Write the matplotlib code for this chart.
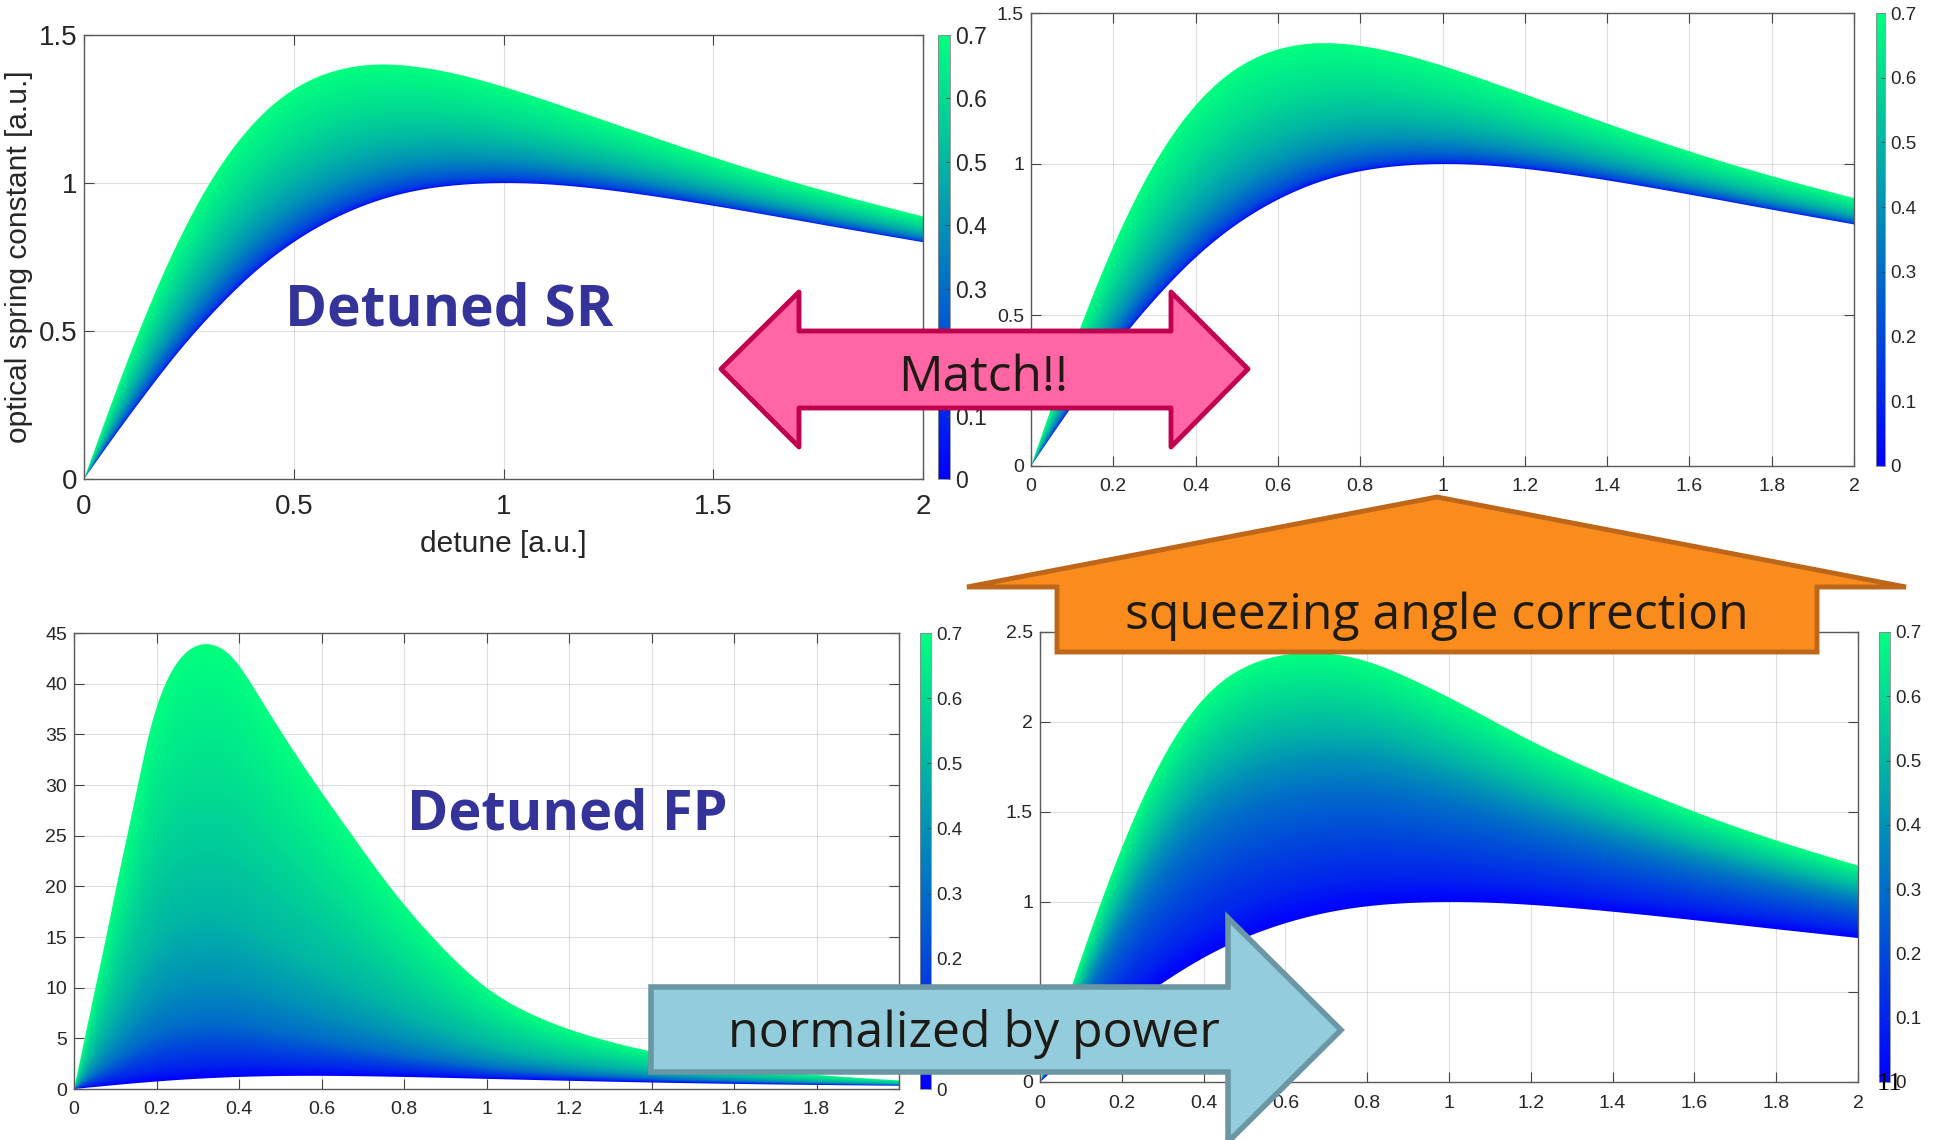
import numpy as np
import matplotlib
matplotlib.use("Agg")
import matplotlib.pyplot as plt
from matplotlib.patches import Polygon
from matplotlib.ticker import FuncFormatter
from matplotlib.cm import ScalarMappable
from matplotlib.colors import Normalize

# ---------------------------------------------------------------- data
# detuned signal recycling: optical spring constant vs detune
sr_x = [0, 0.05, 0.1, 0.15, 0.2, 0.25, 0.3, 0.4, 0.5, 0.6, 0.7, 0.8, 0.9,
        1.0, 1.2, 1.4, 1.6, 1.8, 2.0]
sr_lower = [0, 0.100, 0.198, 0.293, 0.385, 0.471, 0.550, 0.690, 0.800, 0.882,
            0.940, 0.976, 0.994, 1.000, 0.984, 0.946, 0.899, 0.849, 0.800]
sr_upper = [0, 0.195, 0.385, 0.563, 0.727, 0.873, 1.000, 1.194, 1.316, 1.379,
            1.400, 1.391, 1.364, 1.325, 1.231, 1.134, 1.042, 0.960, 0.887]

# detuned FP with squeezing angle correction (normalized)
corr_x = sr_x
corr_lower = [0, 0.100, 0.198, 0.293, 0.385, 0.471, 0.550, 0.690, 0.800, 0.882,
              0.940, 0.976, 0.994, 1.000, 0.984, 0.946, 0.899, 0.849, 0.800]
corr_upper = [0, 0.195, 0.385, 0.563, 0.727, 0.873, 1.000, 1.194, 1.316, 1.379,
              1.400, 1.391, 1.364, 1.325, 1.231, 1.134, 1.042, 0.960, 0.887]

# detuned Fabry-Perot
fp_lower_x = [0, 0.1, 0.2, 0.3, 0.4, 0.5, 0.6, 0.7, 0.8, 1.0, 1.2, 1.4, 1.6, 1.8, 2.0]
fp_lower = [0, 0.392, 0.740, 1.010, 1.190, 1.280, 1.300, 1.260, 1.190, 1.000,
            0.810, 0.640, 0.505, 0.400, 0.320]
fp_upper_x = [0, 0.026, 0.052, 0.078, 0.103, 0.129, 0.155, 0.182, 0.222, 0.270,
              0.323, 0.360, 0.390, 0.420, 0.460, 0.500, 0.588, 0.675, 0.765,
              0.869, 1.0, 1.13, 1.27, 1.4, 1.6, 1.8, 2.0]
fp_upper = [0, 5, 10, 15, 20, 25, 30, 35, 40, 43.0, 43.9, 43.4, 42.3, 40.6,
            38.0, 35.4, 30, 25, 20, 15, 10, 7.0, 5.0, 3.7, 2.3, 1.4, 0.85]

# detuned FP normalized by power
norm_lower_x = sr_x
norm_lower = [0, 0.100, 0.198, 0.293, 0.385, 0.471, 0.550, 0.690, 0.800, 0.882,
              0.940, 0.976, 0.994, 1.000, 0.984, 0.946, 0.899, 0.849, 0.800]
norm_upper_x = [0, 0.04, 0.08, 0.12, 0.16, 0.2, 0.24, 0.28, 0.32, 0.36, 0.4,
                0.45, 0.5, 0.55, 0.6, 0.66, 0.7, 0.8, 0.9, 1.0, 1.2, 1.4, 1.6,
                1.8, 2.0]
norm_upper = [0, 0.276, 0.548, 0.812, 1.064, 1.300, 1.516, 1.708, 1.876, 2.016,
              2.128, 2.233, 2.303, 2.348, 2.373, 2.385, 2.381, 2.336, 2.246,
              2.136, 1.896, 1.686, 1.502, 1.342, 1.202]

# colour parameter (colorbar) and where each level sits inside the band
levels = [0, 0.1, 0.2, 0.3, 0.4, 0.5, 0.6, 0.7]
sr_band_pos = [0, 0.013, 0.056, 0.14, 0.25, 0.42, 0.66, 1.0]
corr_band_pos = [0, 0.013, 0.056, 0.14, 0.25, 0.42, 0.66, 1.0]
fp_band_pos = [0, 0.03, 0.08, 0.13, 0.23, 0.38, 0.66, 1.0]
norm_band_pos = [0, 0.12, 0.30, 0.47, 0.60, 0.71, 0.85, 1.0]

# ticks
x_ticks_coarse = [0, 0.5, 1, 1.5, 2]
x_ticks_fine = [0, 0.2, 0.4, 0.6, 0.8, 1, 1.2, 1.4, 1.6, 1.8, 2]
sr_yticks = [0, 0.5, 1, 1.5]
fp_yticks = [0, 5, 10, 15, 20, 25, 30, 35, 40, 45]
norm_yticks = [0, 0.5, 1, 1.5, 2, 2.5]
cbar_ticks = [0, 0.1, 0.2, 0.3, 0.4, 0.5, 0.6, 0.7]

# ---------------------------------------------------------------- helpers
W, H = 1934, 1140
fig = plt.figure(figsize=(W / 100, H / 100), dpi=100)
fig.patch.set_facecolor("white")
TICK_FONT = ["Liberation Sans", "DejaVu Sans"]
TXT = "#262626"


def rect(l, t, r, b):
    return [l / W, 1 - b / H, (r - l) / W, (b - t) / H]


def spline(xk, yk, x):
    """Natural cubic spline through the sampled points."""
    xk = np.asarray(xk, float)
    yk = np.asarray(yk, float)
    n = len(xk)
    h = np.diff(xk)
    A = np.zeros((n, n))
    b = np.zeros(n)
    A[0, 0] = A[-1, -1] = 1.0
    for i in range(1, n - 1):
        A[i, i - 1] = h[i - 1]
        A[i, i] = 2 * (h[i - 1] + h[i])
        A[i, i + 1] = h[i]
        b[i] = 6 * ((yk[i + 1] - yk[i]) / h[i] - (yk[i] - yk[i - 1]) / h[i - 1])
    M = np.linalg.solve(A, b)
    i = np.clip(np.searchsorted(xk, x) - 1, 0, n - 2)
    hi = h[i]
    a = xk[i + 1] - x
    c = x - xk[i]
    return ((M[i] * a**3 + M[i + 1] * c**3) / (6 * hi)
            + (yk[i] / hi - M[i] * hi / 6) * a
            + (yk[i + 1] / hi - M[i + 1] * hi / 6) * c)


fmt = FuncFormatter(lambda v, _: f"{v:g}")
cmap = plt.get_cmap("winter")
norm = Normalize(0, 0.7)


def panel(box, cbox, xl, lo, xu, hi, band_pos, xticks, yticks, ylim,
          tick_size, cbar_size, xpad, ypad):
    ax = fig.add_axes(rect(*box))
    xg = np.linspace(0, 2, 1400)
    lo_g = np.maximum(spline(xl, lo, xg), 0)
    hi_g = np.maximum(spline(xu, hi, xg), lo_g)
    yg = np.linspace(ylim[0], ylim[1], 1000)
    X, Y = np.meshgrid(xg, yg)
    span = np.where(hi_g - lo_g > 1e-9, hi_g - lo_g, 1e-9)
    T = np.clip((Y - lo_g) / span, 0, 1)
    P = np.interp(T, band_pos, levels)
    im = ax.imshow(P, extent=(0, 2, ylim[0], ylim[1]), origin="lower",
                   aspect="auto", cmap=cmap, norm=norm,
                   interpolation="bilinear", zorder=2)
    poly = ax.fill(np.r_[xg, xg[::-1]], np.r_[lo_g, hi_g[::-1]],
                   facecolor="none", edgecolor="none", zorder=1)[0]
    im.set_clip_path(poly)
    ax.set_xlim(0, 2)
    ax.set_ylim(*ylim)
    ax.set_xticks(xticks)
    ax.set_yticks(yticks)
    ax.xaxis.set_major_formatter(fmt)
    ax.yaxis.set_major_formatter(fmt)
    ax.grid(True, color="#262626", alpha=0.15, linewidth=0.8, zorder=0)
    ax.set_axisbelow(True)
    ax.tick_params(direction="in", length=7, width=0.8, color="#444444",
                   top=True, right=True, labelsize=tick_size, labelcolor=TXT)
    ax.tick_params(axis="x", pad=xpad)
    ax.tick_params(axis="y", pad=ypad)
    for lab in ax.get_xticklabels() + ax.get_yticklabels():
        lab.set_family(TICK_FONT)
    for s in ax.spines.values():
        s.set_color("#5a5a5a")
        s.set_linewidth(1.0)

    cax = fig.add_axes(rect(*cbox))
    cb = fig.colorbar(ScalarMappable(norm=norm, cmap=cmap), cax=cax)
    cb.set_ticks(cbar_ticks)
    cb.ax.yaxis.set_major_formatter(fmt)
    cb.outline.set_edgecolor("#8a8a8a")
    cb.outline.set_linewidth(0.6)
    cax.tick_params(direction="in", length=3, width=0.6, color="#444444",
                    labelsize=cbar_size, labelcolor=TXT, pad=4)
    for lab in cax.get_yticklabels():
        lab.set_family(TICK_FONT)
    return ax


ax1 = panel((84, 35, 923, 479), (938, 35, 950, 479), sr_x, sr_lower, sr_x,
            sr_upper, sr_band_pos, x_ticks_coarse, sr_yticks, (0, 1.5),
            20, 16.5, 11, 5)
ax1.set_xlabel("detune [a.u.]", fontsize=21.5, color=TXT, family=TICK_FONT,
               labelpad=7)
ax1.set_ylabel("optical spring constant [a.u.]", fontsize=21.5, color=TXT,
               family=TICK_FONT, labelpad=4)

panel((1031, 13, 1854, 466), (1876, 13, 1885, 466), corr_x, corr_lower, corr_x,
      corr_upper, corr_band_pos, x_ticks_fine, sr_yticks, (0, 1.5), 14, 13.5, 9, 5)
panel((74, 633, 899, 1089), (920, 633, 931, 1089), fp_lower_x, fp_lower,
      fp_upper_x, fp_upper, fp_band_pos, x_ticks_fine, fp_yticks, (0, 45),
      14, 13.5, 9, 5)
panel((1040, 632, 1858, 1082), (1879, 632, 1890, 1082), norm_lower_x, norm_lower,
      norm_upper_x, norm_upper, norm_band_pos, x_ticks_fine, norm_yticks,
      (0, 2.5), 14, 13.5, 9, 5)

# ---------------------------------------------------------------- slide overlay
ov = fig.add_axes([0, 0, 1, 1], zorder=20)
ov.set_xlim(0, W)
ov.set_ylim(H, 0)
ov.axis("off")
ov.patch.set_alpha(0)

match_shape = [(721, 369), (799, 292), (799, 331), (1171, 331), (1171, 292),
               (1248, 369), (1171, 447), (1171, 408), (799, 408), (799, 447)]
ov.add_patch(Polygon(match_shape, closed=True, facecolor="#FF66A3",
                     edgecolor="#C0004F", linewidth=3.5, joinstyle="round"))

up_shape = [(1057, 652), (1057, 587), (967, 587), (1437, 497), (1906, 587),
            (1817, 587), (1817, 652)]
ov.add_patch(Polygon(up_shape, closed=True, facecolor="#FA8C1E",
                     edgecolor="#BE6619", linewidth=3.5, joinstyle="miter"))

right_shape = [(651, 987), (1228, 987), (1228, 918), (1341, 1030), (1228, 1142),
               (1228, 1072), (651, 1072)]
ov.add_patch(Polygon(right_shape, closed=True, facecolor="#93CDDD",
                     edgecolor="#6A97A3", linewidth=4, joinstyle="miter"))

renderer = fig.canvas.get_renderer()


def fitted(x, y, s, width, **kw):
    t = ov.text(x, y, s, fontsize=20, ha="center", va="baseline", **kw)
    bb = t.get_window_extent(renderer)
    t.set_fontsize(20 * width / bb.width)
    return t


fitted(983, 391, "Match!!", 170, family=["Open Sans", "DejaVu Sans"], color="#1E1A16")
fitted(1437, 629, "squeezing angle correction", 623,
       family=["Open Sans", "DejaVu Sans"], color="#1E1A16")
fitted(974, 1047, "normalized by power", 491,
       family=["Open Sans", "DejaVu Sans"], color="#1E1A16")
fitted(449, 325, "Detuned SR", 329, family=["Open Sans", "DejaVu Sans"],
       weight="bold", color="#333399")
fitted(567, 829, "Detuned FP", 321, family=["Open Sans", "DejaVu Sans"],
       weight="bold", color="#333399")

ov.text(1889, 1090, "11", fontsize=19, ha="center", va="baseline",
        family=["Liberation Serif", "DejaVu Serif"], color="black")

fig.savefig("out.png", dpi=100, facecolor="white")
